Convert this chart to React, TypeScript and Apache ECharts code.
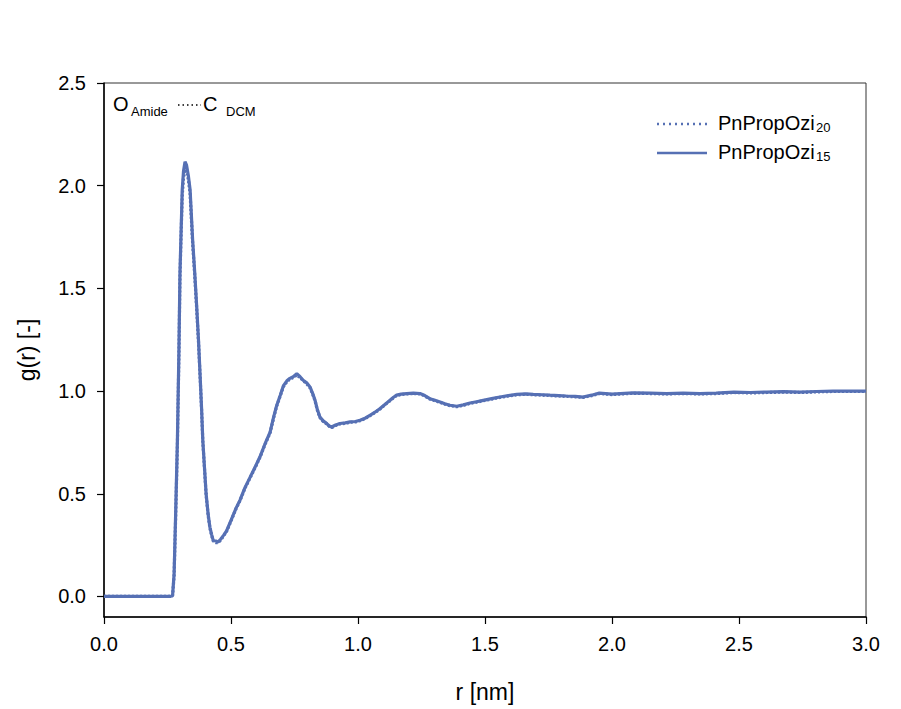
import React, { useEffect, useRef } from "react";
import * as echarts from "echarts";

// r [nm], g(r) for PnPropOzi15 (solid)
const r15: number[] = [0, 0.1, 0.2, 0.26, 0.27, 0.276, 0.282, 0.289, 0.295, 0.299, 0.304, 0.308, 0.313, 0.319, 0.325, 0.332, 0.339, 0.349, 0.357, 0.365, 0.372, 0.378, 0.384, 0.389, 0.396, 0.402, 0.41, 0.417, 0.424, 0.43, 0.44, 0.45, 0.46, 0.472, 0.483, 0.5, 0.52, 0.535, 0.555, 0.575, 0.595, 0.614, 0.633, 0.654, 0.668, 0.68, 0.694, 0.706, 0.72, 0.732, 0.745, 0.759, 0.772, 0.784, 0.798, 0.811, 0.821, 0.831, 0.84, 0.85, 0.863, 0.877, 0.887, 0.896, 0.912, 0.929, 0.95, 0.969, 0.99, 1.008, 1.028, 1.047, 1.067, 1.087, 1.106, 1.126, 1.14, 1.152, 1.17, 1.192, 1.218, 1.244, 1.263, 1.283, 1.303, 1.323, 1.342, 1.362, 1.389, 1.415, 1.441, 1.467, 1.493, 1.526, 1.559, 1.592, 1.625, 1.66, 1.69, 1.725, 1.756, 1.79, 1.82, 1.855, 1.886, 1.92, 1.95, 2.0, 2.083, 2.15, 2.215, 2.28, 2.346, 2.41, 2.48, 2.545, 2.609, 2.675, 2.74, 2.805, 2.87, 2.935, 3.0];
const g15: number[] = [0, 0, 0, 0, 0.005, 0.11, 0.4, 0.76, 1.2, 1.57, 1.8, 1.98, 2.07, 2.117, 2.1, 2.05, 1.98, 1.735, 1.58, 1.41, 1.25, 1.086, 0.92, 0.76, 0.62, 0.5, 0.4, 0.337, 0.3, 0.273, 0.27, 0.265, 0.28, 0.3, 0.32, 0.37, 0.43, 0.468, 0.53, 0.58, 0.63, 0.68, 0.74, 0.8, 0.874, 0.93, 0.98, 1.025, 1.05, 1.062, 1.07, 1.085, 1.07, 1.053, 1.04, 1.02, 0.99, 0.955, 0.91, 0.874, 0.855, 0.842, 0.83, 0.825, 0.835, 0.842, 0.845, 0.85, 0.852, 0.858, 0.868, 0.882, 0.897, 0.915, 0.935, 0.955, 0.97, 0.98, 0.985, 0.988, 0.99, 0.988, 0.978, 0.963, 0.955, 0.947, 0.938, 0.931, 0.926, 0.933, 0.942, 0.948, 0.955, 0.963, 0.971, 0.978, 0.984, 0.986, 0.984, 0.982, 0.98, 0.978, 0.976, 0.974, 0.971, 0.98, 0.99, 0.985, 0.991, 0.99, 0.988, 0.99, 0.988, 0.99, 0.995, 0.993, 0.995, 0.997, 0.995, 0.998, 1.0, 1.0, 1.0];

// r [nm], g(r) for PnPropOzi20 (dotted)
const r20: number[] = [0, 0.1, 0.2, 0.26, 0.27, 0.276, 0.282, 0.289, 0.295, 0.299, 0.304, 0.308, 0.313, 0.319, 0.325, 0.332, 0.339, 0.349, 0.357, 0.365, 0.372, 0.378, 0.384, 0.389, 0.396, 0.402, 0.41, 0.417, 0.424, 0.43, 0.44, 0.45, 0.46, 0.472, 0.483, 0.5, 0.52, 0.535, 0.555, 0.575, 0.595, 0.614, 0.633, 0.654, 0.668, 0.68, 0.694, 0.706, 0.72, 0.732, 0.745, 0.759, 0.772, 0.784, 0.798, 0.811, 0.821, 0.831, 0.84, 0.85, 0.863, 0.877, 0.887, 0.896, 0.912, 0.929, 0.95, 0.969, 0.99, 1.008, 1.028, 1.047, 1.067, 1.087, 1.106, 1.126, 1.14, 1.152, 1.17, 1.192, 1.218, 1.244, 1.263, 1.283, 1.303, 1.323, 1.342, 1.362, 1.389, 1.415, 1.441, 1.467, 1.493, 1.526, 1.559, 1.592, 1.625, 1.66, 1.69, 1.725, 1.756, 1.79, 1.82, 1.855, 1.886, 1.92, 1.95, 2.0, 2.083, 2.15, 2.215, 2.28, 2.346, 2.41, 2.48, 2.545, 2.609, 2.675, 2.74, 2.805, 2.87, 2.935, 3.0];
const g20: number[] = [0, 0, 0, 0, 0.004, 0.1, 0.38, 0.74, 1.18, 1.55, 1.78, 1.95, 2.04, 2.08, 2.07, 2.03, 1.96, 1.72, 1.57, 1.4, 1.24, 1.08, 0.915, 0.755, 0.615, 0.495, 0.395, 0.333, 0.295, 0.27, 0.262, 0.262, 0.276, 0.297, 0.318, 0.367, 0.428, 0.465, 0.527, 0.577, 0.627, 0.677, 0.737, 0.797, 0.87, 0.927, 0.977, 1.02, 1.046, 1.058, 1.066, 1.078, 1.066, 1.05, 1.036, 1.016, 0.987, 0.952, 0.907, 0.871, 0.852, 0.84, 0.828, 0.822, 0.832, 0.84, 0.843, 0.848, 0.85, 0.856, 0.866, 0.88, 0.895, 0.913, 0.933, 0.953, 0.968, 0.978, 0.983, 0.986, 0.988, 0.986, 0.976, 0.961, 0.953, 0.945, 0.936, 0.929, 0.924, 0.931, 0.94, 0.946, 0.953, 0.961, 0.969, 0.976, 0.982, 0.984, 0.982, 0.98, 0.978, 0.976, 0.974, 0.972, 0.969, 0.978, 0.988, 0.983, 0.989, 0.988, 0.986, 0.988, 0.986, 0.988, 0.993, 0.991, 0.993, 0.995, 0.993, 0.996, 0.998, 0.998, 0.998];

const xTicks: number[] = [0, 0.5, 1.0, 1.5, 2.0, 2.5, 3.0];
const yTicks: number[] = [0, 0.5, 1.0, 1.5, 2.0, 2.5];

const seriesNames = ["PnPropOzi20", "PnPropOzi15"];

const LINE_COLOR = "#5670b4";
const FONT = "'Liberation Sans', Arial, sans-serif";

export default function App() {
  const ref = useRef<HTMLDivElement>(null);

  useEffect(() => {
    if (!ref.current) return;
    const chart = echarts.init(ref.current, undefined, { renderer: "svg" });
    const d15 = r15.map((r, i) => [r, g15[i]]);
    const d20 = r20.map((r, i) => [r, g20[i]]);

    chart.setOption({
      animation: false,
      backgroundColor: "#ffffff",
      textStyle: { fontFamily: FONT },
      grid: {
        left: 104,
        top: 83,
        right: 35,
        bottom: 92,
        show: true,
        borderColor: "#333",
        borderWidth: 1,
        backgroundColor: "transparent",
      },
      xAxis: {
        type: "value",
        min: 0,
        max: 3,
        interval: 0.5,
        axisLine: { show: true, onZero: false, lineStyle: { color: "#000", width: 1.5 } },
        axisTick: { show: true, inside: false, length: 7, lineStyle: { color: "#000", width: 1.2 } },
        axisLabel: {
          margin: 17,
          fontSize: 20,
          color: "#000",
          fontFamily: FONT,
          customValues: xTicks,
          formatter: (v: number) => v.toFixed(1),
        },
        splitLine: { show: false },
      },
      yAxis: {
        type: "value",
        min: -0.1,
        max: 2.5,
        axisLine: { show: true, onZero: false, lineStyle: { color: "#000", width: 1.5 } },
        axisTick: { show: true, inside: false, length: 7, customValues: yTicks, lineStyle: { color: "#000", width: 1.2 } },
        axisLabel: {
          margin: 18,
          fontSize: 20,
          color: "#000",
          fontFamily: FONT,
          customValues: yTicks,
          formatter: (v: number) => v.toFixed(1),
        },
        splitLine: { show: false },
      },
      series: [
        {
          name: seriesNames[0],
          type: "line",
          data: d20,
          showSymbol: false,
          symbol: "none",
          lineStyle: { color: LINE_COLOR, width: 3.2, type: [2, 2] },
          z: 2,
        },
        {
          name: seriesNames[1],
          type: "line",
          data: d15,
          showSymbol: false,
          symbol: "none",
          lineStyle: { color: LINE_COLOR, width: 3.2 },
          z: 3,
        },
      ],
      graphic: [
        // top-left annotation
        { type: "text", x: 113, y: 94, style: { text: "O", fontSize: 20, fill: "#000", fontFamily: FONT } },
        { type: "text", x: 131, y: 105, style: { text: "Amide", fontSize: 13, fill: "#000", fontFamily: FONT } },
        { type: "line", shape: { x1: 178, y1: 105, x2: 201, y2: 105 }, style: { stroke: "#000", lineWidth: 1.5, lineDash: [1.5, 3] } },
        { type: "text", x: 203, y: 94, style: { text: "C", fontSize: 20, fill: "#000", fontFamily: FONT } },
        { type: "text", x: 226, y: 105, style: { text: "DCM", fontSize: 13, fill: "#000", fontFamily: FONT } },
        // legend
        { type: "line", shape: { x1: 657, y1: 124, x2: 707, y2: 124 }, style: { stroke: LINE_COLOR, lineWidth: 2.5, lineDash: [2, 4] } },
        { type: "text", x: 718, y: 113, style: { text: "PnPropOzi", fontSize: 20, fill: "#000", fontFamily: FONT } },
        { type: "text", x: 816, y: 121, style: { text: "20", fontSize: 13, fill: "#000", fontFamily: FONT } },
        { type: "line", shape: { x1: 657, y1: 153, x2: 707, y2: 153 }, style: { stroke: LINE_COLOR, lineWidth: 2.5 } },
        { type: "text", x: 718, y: 142, style: { text: "PnPropOzi", fontSize: 20, fill: "#000", fontFamily: FONT } },
        { type: "text", x: 816, y: 150, style: { text: "15", fontSize: 13, fill: "#000", fontFamily: FONT } },
        // axis names
        { type: "text", x: 485, y: 692, style: { text: "r [nm]", fontSize: 23, fill: "#000", fontFamily: FONT, align: "center", verticalAlign: "middle" } },
        { type: "text", x: 27, y: 350, rotation: Math.PI / 2, style: { text: "g(r) [-]", fontSize: 23, fill: "#000", fontFamily: FONT, align: "center", verticalAlign: "middle" } },
      ],
    });
    return () => chart.dispose();
  }, []);

  return <div ref={ref} style={{ position: "fixed", left: 0, top: 0, width: 901, height: 709 }} />;
}
